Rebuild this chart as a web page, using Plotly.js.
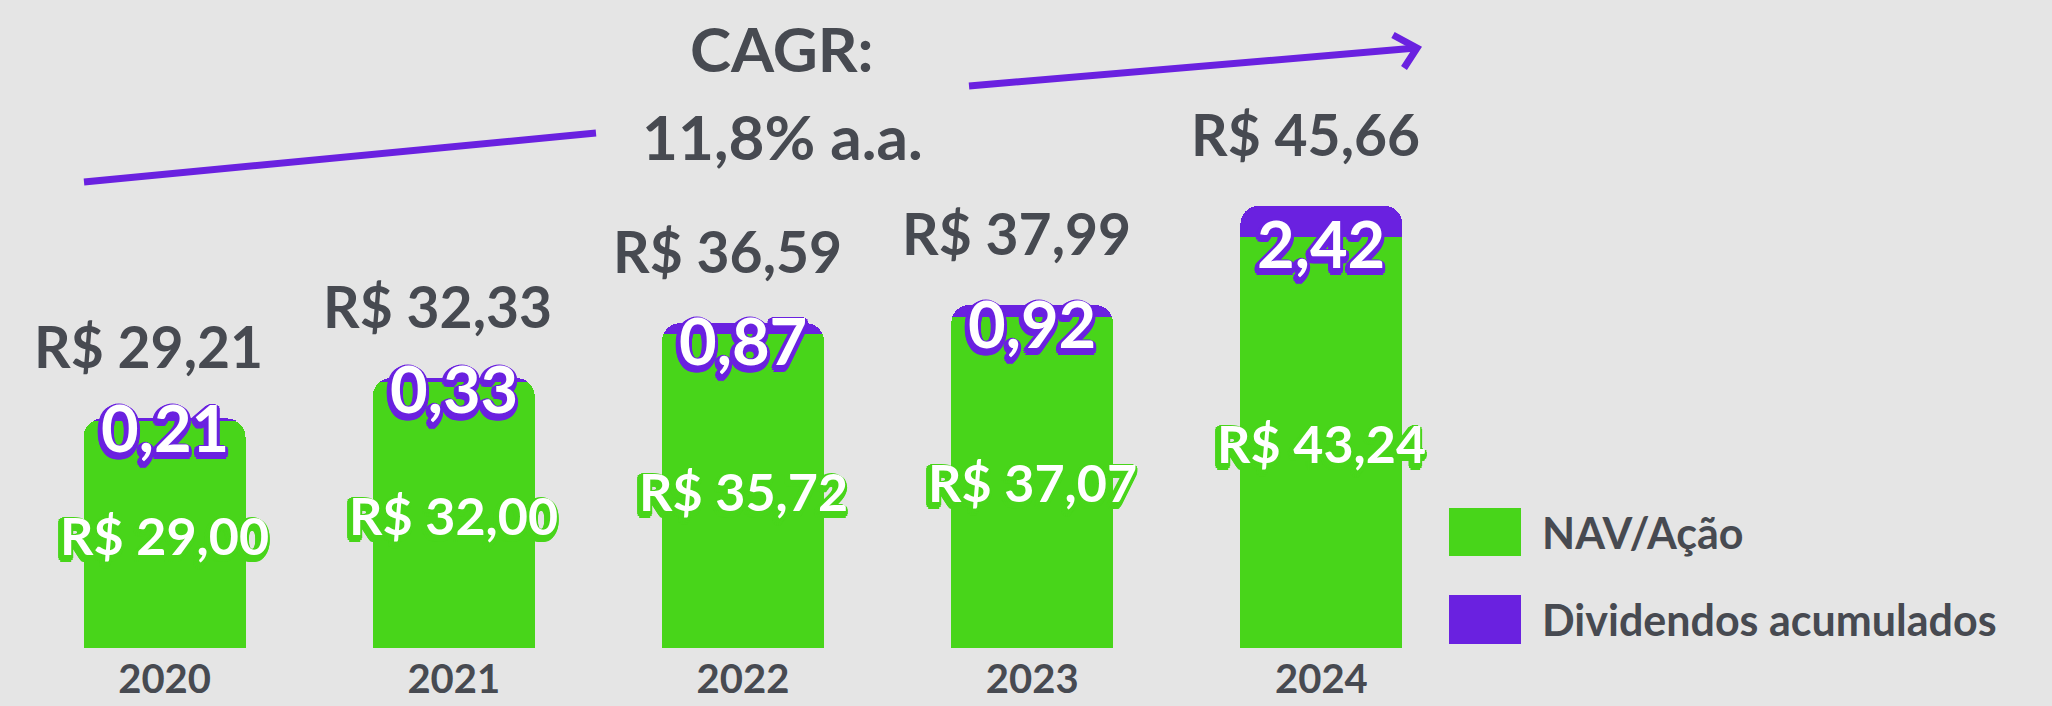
<!DOCTYPE html>
<html>
<head>
<meta charset="utf-8">
<script src="https://cdn.plot.ly/plotly-3.0.1.min.js"></script>
<style>
  html, body { margin: 0; padding: 0; background: #e5e5e5; }
  #chart { width: 2052px; height: 706px; }
</style>
</head>
<body>
<div id="chart"></div>
<script>
// ---- Data ----
const years = ['2020', '2021', '2022', '2023', '2024'];
const navValues = [29.00, 32.00, 35.72, 37.07, 43.24];
const dividendValues = [0.21, 0.33, 0.87, 0.92, 2.42];
const seriesNames = ['NAV/Ação', 'Dividendos acumulados'];
const cagrText = ['CAGR:', '11,8% a.a.'];
const currencyPrefix = 'R$ ';

// ---- Style ----
const GREEN = '#48d51a';
const PURPLE = '#6a21e0';
const DARK = '#474a51';
const BG = '#e5e5e5';
const FONT = 'Lato, "Open Sans", sans-serif';

const W = 2052, H = 706;
const M = { l: 20, r: 586, t: 0, b: 58 };
const plotW = W - M.l - M.r, plotH = H - M.t - M.b;
const Y_RANGE = [11.44, 61.6];

const fmt = v => v.toFixed(2).replace('.', ',');
const totals = navValues.map((v, i) => v + dividendValues[i]);

function outline(color, r, dx, dy) {
  const parts = [];
  for (let a = 0; a < 360; a += 30) {
    const rad = a * Math.PI / 180;
    const x = (Math.cos(rad) * r + dx).toFixed(1);
    const y = (Math.sin(rad) * r + dy).toFixed(1);
    parts.push(`${x}px ${y}px 0 ${color}`);
  }
  return parts.join(', ');
}

// pixel -> paper helpers (for decorations only)
const px = x => (x - M.l) / plotW;
const py = y => (H - M.b - y) / plotH;

const traces = [
  {
    type: 'bar', x: years, y: navValues, name: seriesNames[0],
    marker: { color: GREEN }, hoverinfo: 'skip', showlegend: false
  },
  {
    type: 'bar', x: years, y: dividendValues, name: seriesNames[1],
    marker: { color: PURPLE }, hoverinfo: 'skip', showlegend: false
  }
];

const annotations = [];
years.forEach((yr, i) => {
  // totals above the bars (x = category index)
  annotations.push({
    x: i, y: totals[i], xref: 'x', yref: 'y',
    text: currencyPrefix + fmt(totals[i]), showarrow: false,
    yanchor: 'bottom', yshift: 36, xshift: -16,
    font: { family: FONT, size: 57, color: DARK, weight: 700 }
  });
  // NAV labels in green portion
  annotations.push({
    x: i, y: (Y_RANGE[0] + navValues[i]) / 2, xref: 'x', yref: 'y',
    text: currencyPrefix + fmt(navValues[i]), showarrow: false,
    yanchor: 'middle',
    font: { family: FONT, size: 52, color: '#ffffff', weight: 700,
            shadow: outline(GREEN, 4, -2, 3) }
  });
  // dividend labels at the junction
  annotations.push({
    x: i, y: navValues[i], xref: 'x', yref: 'y',
    text: fmt(dividendValues[i]), showarrow: false,
    yanchor: 'middle', yshift: -6,
    font: { family: FONT, size: 65, color: '#ffffff', weight: 700,
            shadow: outline(PURPLE, 4, -1, 3) }
  });
});

// CAGR text
annotations.push({
  x: px(782), y: py(48), xref: 'paper', yref: 'paper', showarrow: false,
  text: cagrText[0], xanchor: 'center', yanchor: 'middle',
  font: { family: FONT, size: 62, color: DARK, weight: 700 }
});
annotations.push({
  x: px(782), y: py(136), xref: 'paper', yref: 'paper', showarrow: false,
  text: cagrText[1], xanchor: 'center', yanchor: 'middle',
  font: { family: FONT, size: 62, color: DARK, weight: 700 }
});

// custom legend
const legendRows = [{ y0: 508, y1: 556, color: GREEN }, { y0: 595, y1: 644, color: PURPLE }];
const shapes = [];
legendRows.forEach((r, i) => {
  shapes.push({
    type: 'rect', xref: 'paper', yref: 'paper',
    x0: px(1449), x1: px(1521), y0: py(r.y1), y1: py(r.y0),
    fillcolor: r.color, line: { width: 0 }
  });
  annotations.push({
    x: px(1540), y: py((r.y0 + r.y1) / 2), xref: 'paper', yref: 'paper',
    text: seriesNames[i], showarrow: false, xanchor: 'left', yanchor: 'middle',
    font: { family: FONT, size: 43, color: DARK, weight: 700 }
  });
});

// CAGR arrow
shapes.push({
  type: 'line', xref: 'paper', yref: 'paper',
  x0: px(84), y0: py(182), x1: px(596), y1: py(133),
  line: { color: PURPLE, width: 7 }
});
shapes.push({
  type: 'line', xref: 'paper', yref: 'paper',
  x0: px(969), y0: py(86), x1: px(1416), y1: py(48),
  line: { color: PURPLE, width: 7 }
});
shapes.push({
  type: 'path', xref: 'paper', yref: 'paper',
  path: `M ${px(1393)} ${py(35)} L ${px(1417)} ${py(48)} L ${px(1404)} ${py(68)}`,
  line: { color: PURPLE, width: 7 }, fillcolor: 'rgba(0,0,0,0)'
});

const layout = {
  width: W, height: H,
  margin: M,
  paper_bgcolor: BG, plot_bgcolor: BG,
  barmode: 'stack',
  bargap: 0.44,
  barcornerradius: 18,
  showlegend: false,
  xaxis: {
    type: 'category', range: [-0.5, years.length - 0.5],
    showgrid: false, zeroline: false, showline: false,
    ticks: '', ticklabelstandoff: 4,
    tickfont: { family: FONT, size: 40, color: DARK, weight: 700 },
    fixedrange: true
  },
  yaxis: {
    range: Y_RANGE, showgrid: false, zeroline: false, showline: false,
    showticklabels: false, ticks: '', fixedrange: true
  },
  annotations: annotations,
  shapes: shapes
};

Plotly.newPlot('chart', traces, layout, { displayModeBar: false, staticPlot: true });
</script>
</body>
</html>
